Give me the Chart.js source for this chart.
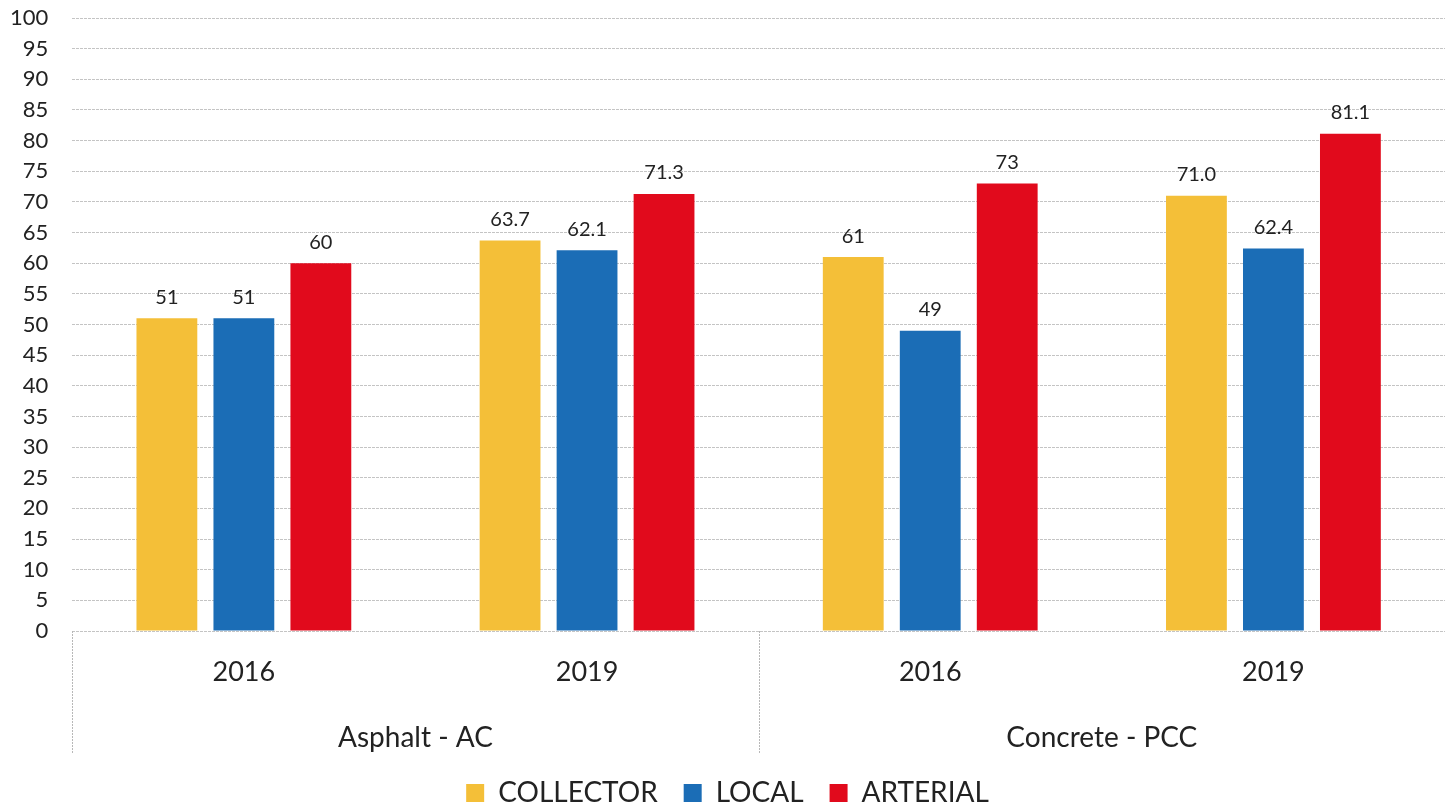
<!DOCTYPE html>
<html lang="en">
<head>
    <meta charset="UTF-8">
    <title>Collector / Local / Arterial</title>
    <style>
        html, body {
            margin: 0;
            padding: 0;
            background: #ffffff;
        }
        .chart-container {
            width: 1445px;
            height: 810px;
            position: relative;
        }
    </style>
    <script src="https://cdn.jsdelivr.net/npm/chart.js"></script>
</head>
<body>
    <div class="chart-container">
        <canvas id="roadChart"></canvas>
    </div>

    <script>
        // Data
        const years = ['2016', '2019', '2016', '2019'];
        const groups = ['Asphalt - AC', 'Concrete - PCC'];
        const collectorText = ['51', '63.7', '61', '71.0'];
        const localText = ['51', '62.1', '49', '62.4'];
        const arterialText = ['60', '71.3', '73', '81.1'];
        const yTicks = { min: 0, max: 100, step: 5 };

        const collector = collectorText.map(Number);
        const local = localText.map(Number);
        const arterial = arterialText.map(Number);

        const baseFont = "Lato, 'Open Sans', sans-serif";

        // value labels above each bar
        const valueLabels = {
            id: 'valueLabels',
            afterDatasetsDraw(chart) {
                const ctx = chart.ctx;
                ctx.save();
                ctx.font = '20px ' + baseFont;
                ctx.fillStyle = '#222';
                ctx.textAlign = 'center';
                ctx.textBaseline = 'bottom';
                chart.data.datasets.forEach((ds, i) => {
                    const meta = chart.getDatasetMeta(i);
                    meta.data.forEach((bar, j) => {
                        ctx.fillText(ds.valueText[j], bar.x, bar.y - 11);
                    });
                });
                ctx.restore();
            }
        };

        // vertical separators between the two pavement groups
        const groupLines = {
            id: 'groupLines',
            afterDraw(chart) {
                const x = chart.scales.x;
                const x2 = chart.scales.x2;
                const half = (x.getPixelForValue(1) - x.getPixelForValue(0)) / 2;
                const ctx = chart.ctx;
                ctx.save();
                ctx.strokeStyle = '#b8b8b8';
                ctx.lineWidth = 1;
                ctx.setLineDash([2, 1]);
                for (let g = 0; g < groups.length; g++) {
                    const px = Math.round(x.getPixelForValue(g * 2) - half) + 0.5;
                    ctx.beginPath();
                    ctx.moveTo(px, chart.chartArea.bottom);
                    ctx.lineTo(px, x2.bottom);
                    ctx.stroke();
                }
                ctx.restore();
            }
        };

        new Chart(document.getElementById('roadChart'), {
            type: 'bar',
            data: {
                labels: years,
                datasets: [
                    { label: 'COLLECTOR', data: collector, valueText: collectorText, backgroundColor: '#f4bf38' },
                    { label: 'LOCAL', data: local, valueText: localText, backgroundColor: '#1b6db6' },
                    { label: 'ARTERIAL', data: arterial, valueText: arterialText, backgroundColor: '#e10a1c' }
                ]
            },
            options: {
                responsive: true,
                maintainAspectRatio: false,
                animation: false,
                datasets: {
                    bar: {
                        categoryPercentage: 0.673,
                        barPercentage: 0.79
                    }
                },
                layout: {
                    padding: { left: 10, right: 0, top: 18, bottom: -7 }
                },
                plugins: {
                    tooltip: { enabled: false },
                    legend: {
                        position: 'bottom',
                        labels: {
                            boxWidth: 18,
                            boxHeight: 18,
                            padding: 26,
                            color: '#222',
                            font: { family: baseFont, size: 28 }
                        }
                    }
                },
                scales: {
                    y: {
                        min: yTicks.min,
                        max: yTicks.max,
                        border: { display: false, dash: [3, 1] },
                        grid: {
                            color: '#c4c4c4',
                            lineWidth: 1,
                            drawTicks: true,
                            tickLength: 24,
                            tickColor: 'rgba(0,0,0,0)'
                        },
                        ticks: {
                            stepSize: yTicks.step,
                            padding: 0,
                            color: '#222',
                            font: { family: baseFont, size: 22 }
                        }
                    },
                    x: {
                        border: { display: false },
                        grid: { display: false },
                        ticks: {
                            padding: 17,
                            color: '#222',
                            font: { family: baseFont, size: 27 }
                        }
                    },
                    x2: {
                        type: 'category',
                        labels: groups,
                        position: 'bottom',
                        offset: true,
                        border: { display: false },
                        grid: { display: false },
                        ticks: {
                            padding: 8,
                            color: '#222',
                            font: { family: baseFont, size: 28 }
                        },
                        afterFit(scale) {
                            scale.height = 47.6;
                        }
                    }
                }
            },
            plugins: [valueLabels, groupLines]
        });
    </script>
</body>
</html>
